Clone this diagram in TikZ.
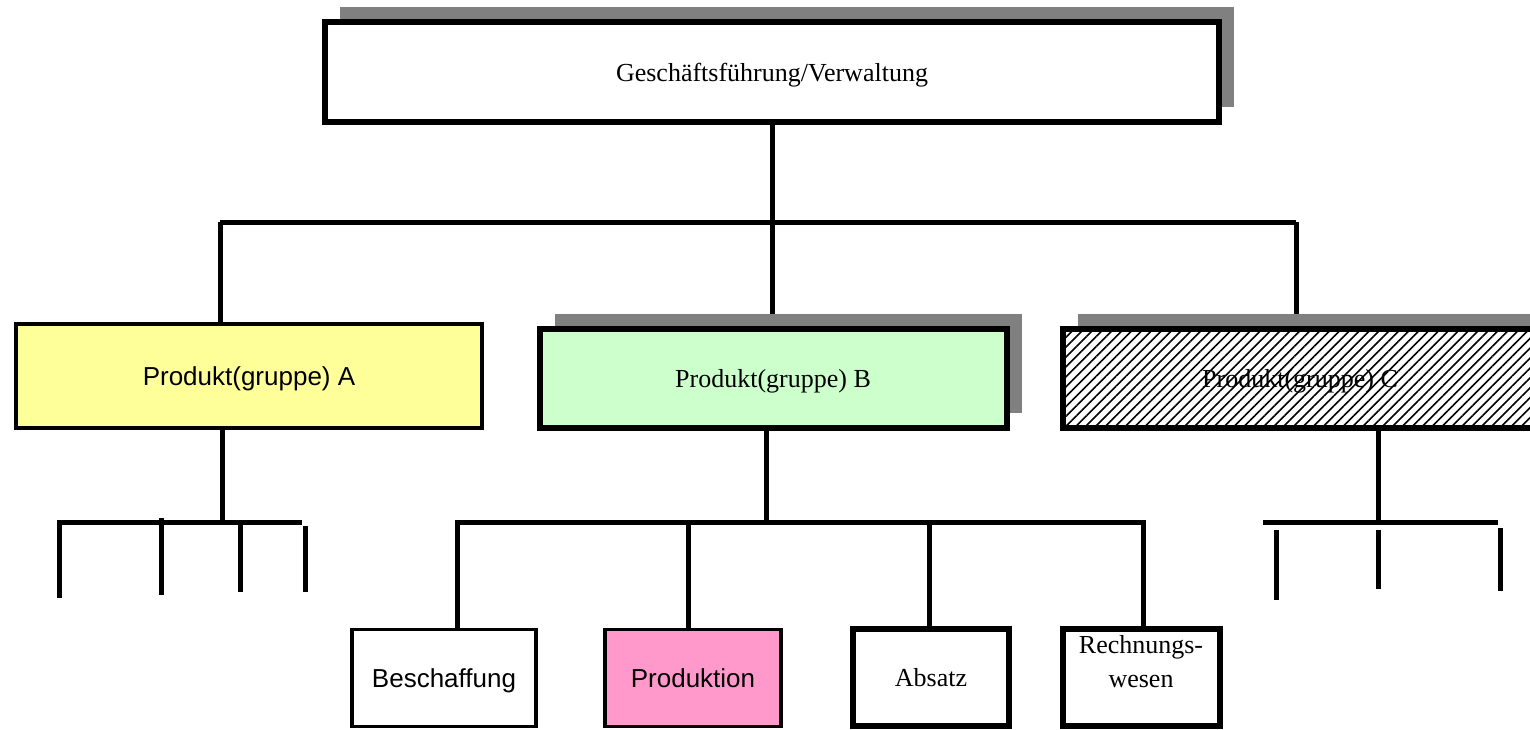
\documentclass[tikz,border=0pt]{standalone}
\usepackage{fontspec}
\setmainfont{Liberation Serif}
\setsansfont{Liberation Sans}
\usetikzlibrary{shadows,patterns.meta,backgrounds}
\definecolor{shadegray}{HTML}{808080}
\definecolor{prodyellow}{HTML}{FFFF99}
\definecolor{prodgreen}{HTML}{CCFFCC}
\definecolor{prodpink}{HTML}{FF99CC}
\begin{document}
\begin{tikzpicture}[x=1pt,y=-1pt,inner sep=0pt,
    box/.style={draw,line width=6pt,fill=white,text depth=0pt,font=\fontsize{26}{30}\selectfont},
    thinbox/.style={box,line width=3.5pt,font=\sffamily\fontsize{26}{30}\selectfont},
    shade/.style={general shadow={fill=shadegray,draw=none,shadow xshift=15pt,shadow yshift=15pt}},
    conn/.style={line width=5pt}]
  \useasboundingbox (0,0) rectangle (1530,730);
  % top and products
  \node[box,shade,minimum width=894pt,minimum height=100pt] (top) at (772,72) {Geschäftsführung/Verwaltung};
  \node[thinbox,fill=prodyellow,minimum width=466pt,minimum height=104pt] (prodA) at (249,376) {Produkt(gruppe) A};
  \node[box,shade,fill=prodgreen,minimum width=467pt,minimum height=99pt] (prodB) at (773,378) {Produkt(gruppe) B};
  \node[box,shade,postaction={pattern={Lines[angle=45,distance=7pt,line width=1.6pt]}},
    minimum width=474pt,minimum height=99pt] (prodC) at (1300,378) {Produkt(gruppe) C};
  % functions of B
  \node[thinbox,minimum width=184pt,minimum height=97pt] (besch) at (444,678) {Beschaffung};
  \node[thinbox,fill=prodpink,minimum width=176pt,minimum height=97pt] (prod) at (693,678) {Produktion};
  \node[box,minimum width=156pt,minimum height=97pt] (absatz) at (931,677) {Absatz};
  \node[box,minimum width=157pt,minimum height=97pt,
    label={[align=center,yshift=15pt,font=\fontsize{26}{34}\selectfont]center:Rechnungs-\\wesen}] (rewe) at (1141,677) {};
  \begin{scope}[on background layer]
    \coordinate (busL) at (220,222);
    \coordinate (busR) at (1296,222);
    \draw[conn] (busL) -- (busR);
    \draw[conn] (top.south) -- (top.south |- prodB.north);
    \draw[conn] (busL) -- (busL |- prodA.north);
    \draw[conn] (busR) -- (busR |- prodC.north);
    % branches of A
    \coordinate (aTrunk) at (222,522);
    \draw[conn] (aTrunk |- prodA.south) -- (aTrunk);
    \draw[conn] (57,522) -- (302,522);
    \foreach \x/\ya/\yb in {59/520/598,161/518/595,240/522/592,305/526/592}
      \draw[conn] (\x,\ya) -- (\x,\yb);
    % branches of B
    \coordinate (bTrunk) at (766,522);
    \draw[conn] (bTrunk |- prodB.south) -- (bTrunk);
    \draw[conn] (455,522) -- (1145,522);
    \foreach \x/\n in {457/besch,688/prod,929/absatz,1143/rewe}
      \draw[conn] (\x,520) -- (\x,520 |- \n.north);
    % branches of C
    \coordinate (cTrunk) at (1378,522);
    \draw[conn] (cTrunk |- prodC.south) -- (cTrunk);
    \draw[conn] (1263,522) -- (1498,522);
    \foreach \x/\ya/\yb in {1276/530/600,1378/530/589,1500/528/591}
      \draw[conn] (\x,\ya) -- (\x,\yb);
  \end{scope}
\end{tikzpicture}
\end{document}
